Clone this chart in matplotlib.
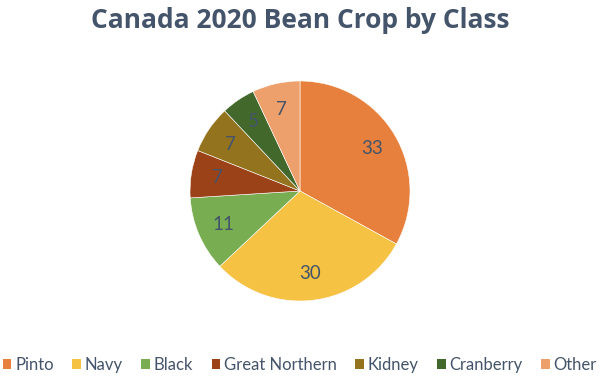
import matplotlib.pyplot as plt
from matplotlib.patches import Patch

# datos del cultivo de frijol 2020
clases = ['Pinto', 'Navy', 'Black', 'Great Northern', 'Kidney', 'Cranberry', 'Other']
valores = [33, 30, 11, 7, 7, 5, 7]
colores = ['#E7803C', '#F5C243', '#78AD52', '#9C4219', '#94731F', '#43682B', '#EDA06C']

texto = '#44546A'

fig = plt.figure(figsize=(6, 3.77), dpi=100)
ax = fig.add_axes([0.5 - 110 / 600, 1 - 301 / 377, 220 / 600, 220 / 377])

ax.pie(valores, colors=colores, startangle=90, counterclock=False,
       autopct=lambda p: '%d' % round(p), pctdistance=0.76,
       wedgeprops={'linewidth': 0.4, 'edgecolor': 'white'},
       textprops={'color': texto, 'fontsize': 13.5, 'family': 'Lato'})
ax.set_xlim(-1, 1)
ax.set_ylim(-1, 1)
ax.set_aspect('equal')

fig.text(0.5, 1 - 20 / 377, 'Canada 2020 Bean Crop by Class', ha='center', va='center',
         fontsize=19, fontweight='bold', color=texto, family='Open Sans')

manejadores = [Patch(facecolor=c, edgecolor='none') for c in colores]
fig.legend(manejadores, clases, loc='center', bbox_to_anchor=(0.5, 1 - 365 / 377),
           ncol=7, frameon=False, handlelength=0.5, handleheight=0.5,
           handletextpad=0.25, columnspacing=1.1, borderpad=0, borderaxespad=0,
           prop={'family': 'Lato', 'size': 12}, labelcolor=texto)

fig.savefig('out.png', dpi=100)
